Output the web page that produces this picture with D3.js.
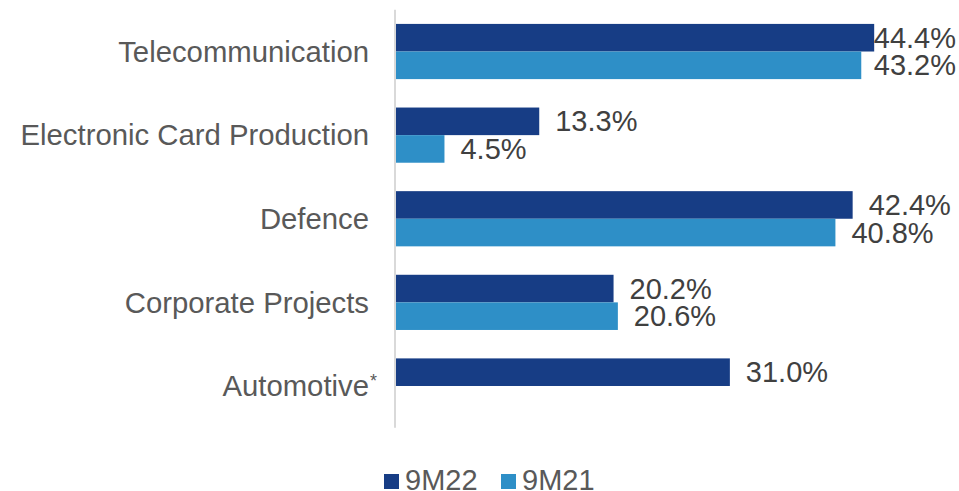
<!DOCTYPE html>
<html>
<head>
<meta charset="utf-8">
<script src="https://cdn.jsdelivr.net/npm/d3@7"></script>
<style>
  html, body { margin: 0; padding: 0; background: #ffffff; }
  svg { display: block; font-family: "Liberation Sans", Arial, sans-serif; }
</style>
</head>
<body>
<svg id="chart" width="959" height="491"></svg>
<script>
// Segment shares, 9M22 vs 9M21 (percent)
const categories = ["Telecommunication", "Electronic Card Production", "Defence", "Corporate Projects", "Automotive"];
const seriesNames = ["9M22", "9M21"];
const values9M22 = [44.4, 13.3, 42.4, 20.2, 31.0];
const values9M21 = [43.2, 4.5, 40.8, 20.6, null];
const seriesColors = ["#173d85", "#2e8fc7"];
const footnoteMark = { Automotive: "*" };

const W = 959, H = 491;
const svg = d3.select("#chart");

const axisX = 396;
const x = d3.scaleLinear().domain([0, 50]).range([axisX, axisX + 538.5]);
const y = d3.scaleBand().domain(categories).range([9.7, 427.8]).paddingInner(0.34).paddingOuter(0.17);
const ySub = d3.scaleBand().domain(seriesNames).range([0, y.bandwidth()]);

const rows = categories.map((c, i) => ({ cat: c, vals: [values9M22[i], values9M21[i]] }));

// Bars
const groups = svg.append("g").selectAll("g").data(rows).join("g")
  .attr("transform", d => `translate(0,${y(d.cat)})`);

groups.selectAll("rect")
  .data(d => d.vals.map((v, k) => ({ v, k })).filter(e => e.v != null))
  .join("rect")
  .attr("x", x(0))
  .attr("y", e => ySub(seriesNames[e.k]))
  .attr("width", e => x(e.v) - x(0))
  .attr("height", ySub.bandwidth())
  .attr("fill", e => seriesColors[e.k]);

// Value labels, kept inside the right edge
groups.selectAll("text.val")
  .data(d => d.vals.map((v, k) => ({ v, k })).filter(e => e.v != null))
  .join("text")
  .attr("class", "val")
  .attr("y", e => ySub(seriesNames[e.k]) + ySub.bandwidth() / 2)
  .attr("dy", "0.35em")
  .attr("font-size", 29)
  .attr("fill", "#404040")
  .text(e => e.v.toFixed(1) + "%")
  .attr("x", function (e) {
    const len = this.getComputedTextLength();
    return Math.min(x(e.v) + 16, W - 3 - len);
  });

// Vertical category axis line
svg.append("line")
  .attr("x1", axisX - 1).attr("x2", axisX - 1)
  .attr("y1", y.range()[0]).attr("y2", y.range()[1])
  .attr("stroke", "#d9d9d9").attr("stroke-width", 2);

// Category labels
const catLabels = svg.append("g").selectAll("g").data(categories).join("g");
catLabels.append("text")
  .attr("x", 369)
  .attr("y", d => y(d) + y.bandwidth() / 2)
  .attr("dy", "0.35em")
  .attr("text-anchor", "end")
  .attr("font-size", 29.3)
  .attr("fill", "#595959")
  .text(d => d);
catLabels.filter(d => footnoteMark[d])
  .append("text")
  .attr("x", 370)
  .attr("y", d => y(d) + y.bandwidth() / 2 + 1)
  .attr("font-size", 18)
  .attr("fill", "#595959")
  .text(d => footnoteMark[d]);

// Legend
const legendX = [384, 501];
const legend = svg.append("g").selectAll("g").data(seriesNames).join("g")
  .attr("transform", (d, i) => `translate(${legendX[i]},474)`);
legend.append("rect")
  .attr("width", 15).attr("height", 15)
  .attr("fill", (d, i) => seriesColors[i]);
legend.append("text")
  .attr("x", 21).attr("y", 16)
  .attr("font-size", 29)
  .attr("fill", "#595959")
  .text(d => d);
</script>
</body>
</html>
